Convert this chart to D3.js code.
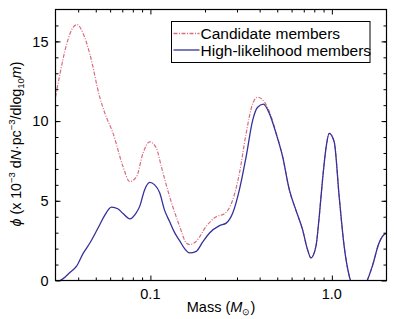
<!DOCTYPE html>
<html>
<head>
<meta charset="utf-8">
<script src="https://cdn.jsdelivr.net/npm/d3@7"></script>
<style>
  body { margin: 0; background: #fff; }
  svg { font-family: "Liberation Sans", Arial, sans-serif; }
</style>
</head>
<body>
<div id="chart"></div>
<script>
// mass values (solar masses) and phi values
var massHigh = [0.0318, 0.0329, 0.0360, 0.0392, 0.0426, 0.0464, 0.0526, 0.0561, 0.0611, 0.0661, 0.0707, 0.0770,
    0.0830, 0.0873, 0.0930, 0.0991, 0.1056, 0.1125, 0.1198, 0.1276, 0.1360, 0.1449, 0.1543, 0.1644, 0.1789,
    0.1938, 0.2118, 0.2403, 0.2616, 0.2843, 0.3095, 0.3370, 0.3663, 0.3888, 0.4194, 0.4524, 0.4924, 0.5354,
    0.5827, 0.6343, 0.6896, 0.7317, 0.7667, 0.8169, 0.8517, 0.8880, 0.9306, 0.9665, 1.030, 1.097, 1.169,
    1.245, 1.326, 1.413, 1.538, 1.671, 1.819, 1.975, 2.0];
var phiHigh = [0.0, 0.1, 0.5, 0.9, 1.7, 2.35, 3.5, 4.1, 4.6, 4.5, 4.2, 3.87,
    4.2, 4.65, 5.7, 6.15, 6.0, 5.5, 4.4, 3.7, 3.0, 2.5, 2.0, 1.73, 1.83,
    2.4, 2.98, 3.44, 3.6, 4.23, 5.7, 7.77, 10.06, 10.85, 11.06, 10.48, 9.23, 7.77,
    5.7, 4.4, 3.19, 2.0, 1.42, 2.14, 4.0, 6.3, 8.4, 9.23, 8.7, 5.27, 2.14,
    0.3, -0.5, -0.8, -0.2, 0.9, 2.35, 2.94, 2.95];

var massCand = [0.030, 0.0318, 0.0346, 0.0376, 0.0394, 0.0426, 0.0464, 0.0526, 0.0561, 0.0623, 0.0707, 0.0770,
    0.0838, 0.0911, 0.0991, 0.1079, 0.1149, 0.1276, 0.1449, 0.1577, 0.1644, 0.1789, 0.2031, 0.2305, 0.2559,
    0.2843, 0.3095, 0.3370, 0.3663, 0.3902, 0.4246, 0.4524, 0.4924, 0.5354,
    0.5827, 0.6343, 0.6896, 0.7317, 0.7667, 0.8169, 0.8517, 0.8880, 0.9306, 0.9665, 1.030, 1.097, 1.169,
    1.245, 1.326, 1.413, 1.538, 1.671, 1.819, 1.975, 2.0];
var phiCand = [11.5, 13.0, 14.85, 15.9, 16.05, 15.5, 14.2, 11.5, 10.5, 9.23, 7.14, 6.2,
    6.5, 8.0, 8.7, 8.3, 7.14, 5.27, 3.4, 2.35, 2.25, 2.46, 3.4, 4.0, 4.19,
    5.06, 6.73, 9.23, 11.1, 11.5, 11.2, 10.6, 9.3, 7.77,
    5.7, 4.4, 3.19, 2.0, 1.42, 2.14, 4.0, 6.3, 8.4, 9.23, 8.7, 5.27, 2.14,
    0.3, -0.5, -0.8, -0.2, 0.9, 2.35, 2.94, 2.95];

var xMajor = [0.1, 1.0];
var xMajorLabels = ["0.1", "1.0"];
var xMinor = [0.04, 0.05, 0.06, 0.07, 0.08, 0.09, 0.2, 0.3, 0.4, 0.5, 0.6, 0.7, 0.8, 0.9];
var yMajor = [0, 5, 10, 15];
var yMinor = d3.range(1, 17);

var legendNames = ["Candidate members", "High-likelihood members"];

var margins = { top: 9.5, bottom: 38.5, left: 55.5, right: 12.5 };
var svgWidth = 399, svgHeight = 319;
var width = svgWidth - margins.left - margins.right;
var height = svgHeight - margins.top - margins.bottom;

var candColor = "#d96d80";
var highColor = "#35309a";

var svg = d3.select("#chart").append("svg")
    .attr("width", svgWidth)
    .attr("height", svgHeight);

var chartGroup = svg.append("g")
    .attr("transform", `translate(${margins.left},${margins.top})`);

var xScale = d3.scaleLog().domain([0.03, 2]).range([0, width]);
var yScale = d3.scaleLinear().domain([0, 17]).range([height, 0]);

svg.append("clipPath").attr("id", "plotClip")
  .append("rect").attr("width", width).attr("height", height);

var plotArea = chartGroup.append("g").attr("clip-path", "url(#plotClip)");

var line = d3.line()
    .x(d => xScale(d[0]))
    .y(d => yScale(d[1]))
    .curve(d3.curveMonotoneX);

plotArea.append("path")
    .datum(d3.zip(massCand, phiCand))
    .attr("d", line)
    .attr("fill", "none")
    .attr("stroke", candColor)
    .attr("stroke-width", 1.2)
    .attr("stroke-dasharray", "4,1.5,1,1.5");

plotArea.append("path")
    .datum(d3.zip(massHigh, phiHigh))
    .attr("d", line)
    .attr("fill", "none")
    .attr("stroke", highColor)
    .attr("stroke-width", 1.3);

// axes with inward ticks on all four sides
function tickAxis(axisFn, scale, values, size, fmt) {
    return axisFn(scale).tickValues(values).tickSizeInner(-size).tickSizeOuter(0)
        .tickFormat(fmt || "");
}

var axes = [
  { g: chartGroup.append("g").attr("transform", `translate(0,${height})`), fn: d3.axisBottom, s: xScale },
  { g: chartGroup.append("g"), fn: d3.axisTop, s: xScale },
  { g: chartGroup.append("g"), fn: d3.axisLeft, s: yScale },
  { g: chartGroup.append("g").attr("transform", `translate(${width},0)`), fn: d3.axisRight, s: yScale }
];
axes.forEach((a, i) => {
    var isX = i < 2;
    a.g.call(tickAxis(a.fn, a.s, isX ? xMinor : yMinor, 3));
    var major = a.g.append("g");
    major.call(tickAxis(a.fn, a.s, isX ? xMajor : yMajor, 5));
    major.select(".domain").remove();
    a.g.selectAll("text").remove();
});
chartGroup.selectAll(".domain").remove();
chartGroup.selectAll(".tick line").attr("stroke", "#000").attr("stroke-width", 1);

// frame
chartGroup.append("rect")
    .attr("width", width).attr("height", height)
    .attr("fill", "none").attr("stroke", "#000").attr("stroke-width", 1.2);

// tick labels
chartGroup.selectAll(".xlab").data(xMajor).enter().append("text")
    .attr("x", d => xScale(d))
    .attr("y", height + 18)
    .attr("text-anchor", "middle")
    .style("font-size", "14.5px")
    .text((d, i) => xMajorLabels[i]);

chartGroup.selectAll(".ylab").data(yMajor).enter().append("text")
    .attr("x", -7)
    .attr("y", d => yScale(d))
    .attr("dy", "0.36em")
    .attr("text-anchor", "end")
    .style("font-size", "14.5px")
    .text(d => d);

// axis titles
var xTitle = svg.append("text")
    .attr("x", margins.left + width / 2)
    .attr("y", 312)
    .attr("text-anchor", "middle")
    .style("font-size", "14.5px");
xTitle.append("tspan").text("Mass (");
xTitle.append("tspan").style("font-style", "italic").text("M");
xTitle.append("tspan").attr("dy", 3).style("font-size", "9px").text("\u2299");
xTitle.append("tspan").attr("dy", -3).text(")");

var yTitle = svg.append("text")
    .attr("transform", "translate(21,144) rotate(-90)")
    .attr("text-anchor", "middle")
    .style("font-size", "14.2px");
yTitle.append("tspan").style("font-style", "italic").text("\u03d5");
yTitle.append("tspan").text(" (x 10");
yTitle.append("tspan").attr("dy", -6).style("font-size", "9.5px").text("\u22123");
yTitle.append("tspan").attr("dy", 6).text(" d");
yTitle.append("tspan").style("font-style", "italic").text("N");
yTitle.append("tspan").text("\u00b7pc");
yTitle.append("tspan").attr("dy", -6).style("font-size", "9.5px").text("\u22123");
yTitle.append("tspan").attr("dy", 6).text("/dlog");
yTitle.append("tspan").attr("dy", 3).style("font-size", "9.5px").text("10");
yTitle.append("tspan").attr("dy", -3).style("font-style", "italic").text("m");
yTitle.append("tspan").text(")");

// legend
var legend = svg.append("g").attr("transform", "translate(171.5,21.5)");
legend.append("rect")
    .attr("width", 198.5).attr("height", 41)
    .attr("fill", "#fff").attr("stroke", "#000").attr("stroke-width", 1);
var legendColors = [candColor, highColor];
var legendDash = ["4,1.5,1,1.5", null];
legendNames.forEach((name, i) => {
    var yy = 12 + i * 16.5;
    legend.append("line")
        .attr("x1", 2).attr("x2", 28).attr("y1", yy).attr("y2", yy)
        .attr("stroke", legendColors[i]).attr("stroke-width", 1.3)
        .attr("stroke-dasharray", legendDash[i]);
    legend.append("text")
        .attr("x", 29).attr("y", yy).attr("dy", "0.36em")
        .style("font-size", "15.5px")
        .text(name);
});
</script>
</body>
</html>
